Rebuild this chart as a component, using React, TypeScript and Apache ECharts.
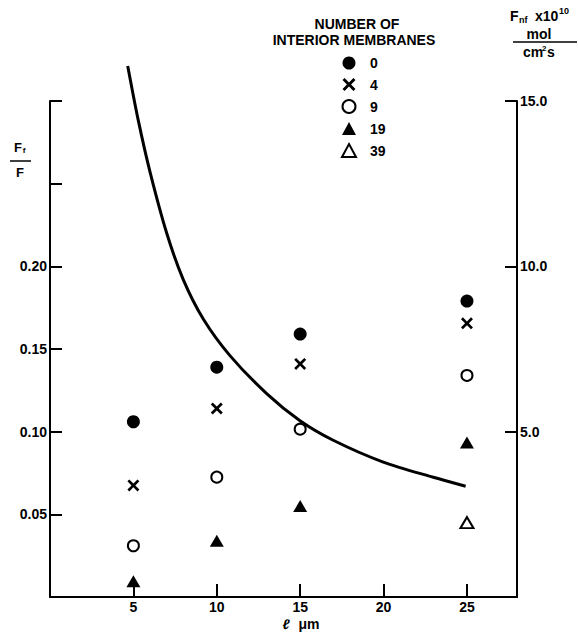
import React, { useEffect, useRef } from "react";
import * as echarts from "echarts";

// ---- data ----
const xValues = [5, 10, 15, 25];
const membranes0 = [0.106, 0.139, 0.159, 0.179];
const membranes4 = [0.0675, 0.114, 0.141, 0.1655];
const membranes9 = [0.031, 0.0725, 0.1015, 0.134];
const membranes19 = [0.0095, 0.034, 0.055, 0.0935];
const membranes39X = [25];
const membranes39 = [0.045];

const curveX = [4.66, 5.29, 6.0, 7.0, 7.99, 9.2, 10.79, 12.99, 14.99, 16.98, 19.98, 22.98, 24.92];
const curveY = [16.06, 14.42, 12.85, 11.0, 9.6, 8.4, 7.3, 6.15, 5.33, 4.74, 4.08, 3.62, 3.35];

const legendNames = ["0", "4", "9", "19", "39"];
const xTickLabels = [5, 10, 15, 20, 25];
const leftTickLabels = [0.05, 0.1, 0.15, 0.2];
const rightTickLabels = [5, 10, 15];

const FONT = '"Liberation Sans Narrow", "Liberation Sans", Arial, sans-serif';
const crossPath =
  "path://M0,1.6L1.6,0L5,3.4L8.4,0L10,1.6L6.6,5L10,8.4L8.4,10L5,6.6L1.6,10L0,8.4L3.4,5Z";

const zip = (xs: number[], ys: number[]) => xs.map((x, i) => [x, ys[i]]);

function txt(text: string, x: number, y: number, size: number, align = "center", extra: any = {}) {
  return {
    type: "text",
    x,
    y,
    silent: true,
    style: {
      text,
      font: `bold ${size}px ${FONT}`,
      fill: "#000",
      textAlign: align,
      textVerticalAlign: "middle",
      align,
      verticalAlign: "middle",
      ...extra,
    },
  };
}

export default function App() {
  const ref = useRef<HTMLDivElement>(null);
  useEffect(() => {
    document.body.style.margin = "0";
    if (!ref.current) return;
    const chart = echarts.init(ref.current, undefined, { renderer: "svg" });
    const axisLine = { show: true, lineStyle: { color: "#000", width: 2 } };
    const labelStyle = { color: "#000", fontWeight: "bold" as const, fontSize: 14, fontFamily: FONT };
    const solid = { opacity: 1 };
    chart.setOption({
      animation: false,
      backgroundColor: "#fff",
      grid: { left: 50, top: 101, width: 467, height: 496, containLabel: false },
      xAxis: {
        type: "value",
        min: 0,
        max: 28,
        interval: 5,
        axisLine: { ...axisLine, onZero: false },
        axisTick: { show: true, inside: true, length: 13, lineStyle: { color: "#000", width: 2 } },
        splitLine: { show: false },
        axisLabel: {
          ...labelStyle,
          margin: 3,
          formatter: (v: number) => (xTickLabels.includes(v) ? String(v) : ""),
        },
      },
      yAxis: [
        {
          type: "value",
          position: "left",
          min: 0,
          max: 0.3,
          interval: 0.05,
          axisLine: { ...axisLine, onZero: false },
          axisTick: { show: true, inside: true, length: 12, lineStyle: { color: "#000", width: 2 } },
          splitLine: { show: false },
          axisLabel: {
            ...labelStyle,
            margin: 3,
            formatter: (v: number) =>
              leftTickLabels.some((t) => Math.abs(t - v) < 1e-6) ? v.toFixed(2) : "",
          },
        },
        {
          type: "value",
          position: "right",
          min: 0,
          max: 15,
          interval: 5,
          axisLine: { ...axisLine, onZero: false },
          axisTick: { show: true, inside: true, length: 12, lineStyle: { color: "#000", width: 2 } },
          splitLine: { show: false },
          axisLabel: {
            ...labelStyle,
            margin: 3,
            formatter: (v: number) => (rightTickLabels.includes(v) ? v.toFixed(1) : ""),
          },
        },
      ],
      legend: {
        orient: "vertical",
        left: 336,
        top: 51,
        itemWidth: 14,
        itemHeight: 13,
        itemGap: 7.5,
        data: legendNames,
        selectedMode: false,
        textStyle: { color: "#000", fontWeight: "bold", fontSize: 14, fontFamily: FONT, padding: [0, 0, 0, 9] },
      },
      graphic: [
        txt("NUMBER OF", 357, 24, 14),
        txt("INTERIOR MEMBRANES", 354, 40, 14),
        // left axis label F_f / F
        txt("F", 18, 147, 13),
        txt("f", 24, 150, 8),
        { type: "line", shape: { x1: 10, y1: 161, x2: 31, y2: 161 }, style: { stroke: "#000", lineWidth: 1.5 } },
        txt("F", 20, 172, 13),
        // right axis label F_nf x10^10 mol / cm2 s
        txt("F", 510, 16, 14, "left"),
        txt("nf", 519, 20, 9, "left"),
        txt("x10", 535, 16, 14, "left"),
        txt("10", 559, 11, 9, "left"),
        txt("mol", 539, 34, 14),
        { type: "line", shape: { x1: 513, y1: 42, x2: 577, y2: 42 }, style: { stroke: "#000", lineWidth: 1.5 } },
        txt("cm", 533, 52, 14),
        txt("2", 542, 48, 8, "left"),
        txt("s", 547, 52, 14, "left"),
        // x axis name
        txt("ℓ", 286, 624, 14, "center", { font: `italic bold 14px ${FONT}` }),
        txt("μm", 309, 624, 14),
      ],
      series: [
        {
          name: "0",
          type: "scatter",
          data: zip(xValues, membranes0),
          symbol: "circle",
          symbolSize: 13,
          itemStyle: { color: "#000", ...solid },
        },
        {
          name: "4",
          type: "scatter",
          data: zip(xValues, membranes4),
          symbol: crossPath,
          symbolSize: 12,
          itemStyle: { color: "#000", ...solid },
        },
        {
          name: "9",
          type: "scatter",
          data: zip(xValues, membranes9),
          symbol: "circle",
          symbolSize: 11,
          itemStyle: { color: "#fff", borderColor: "#000", borderWidth: 2, ...solid },
        },
        {
          name: "19",
          type: "scatter",
          data: zip(xValues, membranes19),
          symbol: "triangle",
          symbolSize: [14, 12],
          itemStyle: { color: "#000", ...solid },
        },
        {
          name: "39",
          type: "scatter",
          data: zip(membranes39X, membranes39),
          symbol: "triangle",
          symbolSize: [13, 11],
          itemStyle: { color: "#fff", borderColor: "#000", borderWidth: 2, ...solid },
        },
        {
          name: "Fnf",
          type: "line",
          yAxisIndex: 1,
          data: zip(curveX, curveY),
          smooth: 0.3,
          showSymbol: false,
          symbol: "none",
          clip: false,
          lineStyle: { color: "#000", width: 3 },
        },
      ],
    });
    return () => chart.dispose();
  }, []);
  return <div ref={ref} style={{ width: 578, height: 632 }} />;
}
